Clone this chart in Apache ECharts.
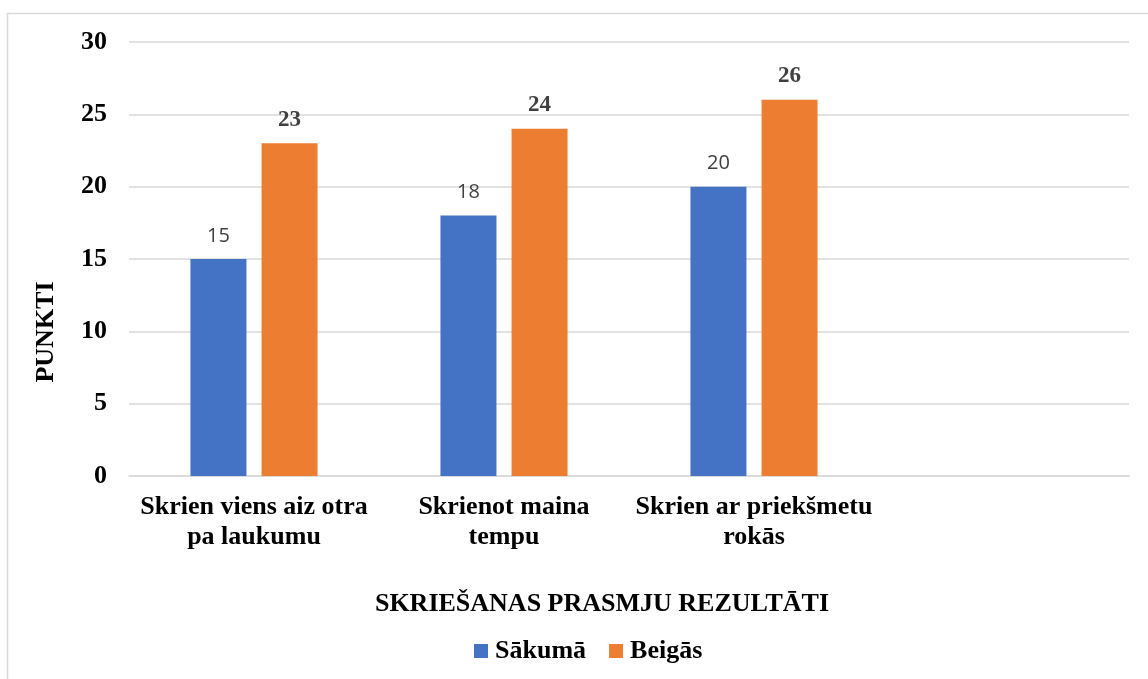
<!DOCTYPE html>
<html>
<head>
<meta charset="utf-8">
<script src="https://cdn.jsdelivr.net/npm/echarts@6/dist/echarts.min.js"></script>
<style>
  html, body { margin: 0; padding: 0; background: #fff; }
  #chart { width: 1148px; height: 679px; }
</style>
</head>
<body>
<div id="chart"></div>
<script>
// dati
var categories = ['Skrien viens aiz otra\npa laukumu', 'Skrienot maina\ntempu', 'Skrien ar priekšmetu\nrokās', '']
var sakuma = [15, 18, 20, '-']
var beigas = [23, 24, 26, '-']
var yTicks = { min: 0, max: 30, step: 5 }

var serif = 'Liberation Serif'

var chart = echarts.init(document.getElementById('chart'))
chart.setOption({
  animation: false,
  color: ['#4472c4', '#ed7d31'],
  textStyle: { fontFamily: serif },
  grid: { left: 129, right: 19, top: 42, bottom: 203 },
  graphic: [
    // ramis ap diagrammu
    { type: 'rect', shape: { x: 7.5, y: 13.5, width: 1300, height: 800 }, style: { fill: 'none', stroke: '#d9d9d9', lineWidth: 1.5 }, silent: true },
    { type: 'text', x: 46, y: 332, rotation: Math.PI / 2,
      style: { text: 'PUNKTI', font: 'bold 26px "Liberation Serif"', fill: '#000', textAlign: 'center', textVerticalAlign: 'middle' } },
    { type: 'text', x: 602, y: 604,
      style: { text: 'SKRIEŠANAS PRASMJU REZULTĀTI', font: 'bold 26px "Liberation Serif"', fill: '#000', textAlign: 'center', textVerticalAlign: 'middle' } }
  ],
  legend: {
    left: 469,
    top: 633,
    icon: 'rect',
    itemWidth: 14,
    itemHeight: 14,
    itemGap: 23,
    textStyle: { fontFamily: serif, fontWeight: 'bold', fontSize: 26, color: '#000', padding: [0, 0, 0, 2] },
    data: ['Sākumā', 'Beigās']
  },
  xAxis: {
    type: 'category',
    data: categories,
    axisLine: { lineStyle: { color: '#d9d9d9', width: 1.5 } },
    axisTick: { show: false },
    axisLabel: {
      interval: 0,
      margin: 16,
      fontFamily: serif,
      fontWeight: 'bold',
      fontSize: 26,
      lineHeight: 30,
      color: '#000'
    }
  },
  yAxis: {
    type: 'value',
    min: yTicks.min,
    max: yTicks.max,
    interval: yTicks.step,
    axisLine: { show: false },
    axisTick: { show: false },
    splitLine: { lineStyle: { color: '#d9d9d9', width: 1.5 } },
    axisLabel: {
      margin: 22,
      fontFamily: serif,
      fontWeight: 'bold',
      fontSize: 26,
      color: '#000'
    }
  },
  series: [
    {
      name: 'Sākumā',
      type: 'bar',
      barWidth: 56,
      barGap: '27%',
      data: sakuma,
      label: {
        show: true,
        position: 'top',
        distance: 13,
        fontFamily: 'Open Sans',
        fontSize: 20,
        color: '#404040'
      }
    },
    {
      name: 'Beigās',
      type: 'bar',
      barWidth: 56,
      data: beigas,
      label: {
        show: true,
        position: 'top',
        distance: 12,
        fontFamily: serif,
        fontWeight: 'bold',
        fontSize: 23,
        color: '#404040'
      }
    }
  ]
})
</script>
</body>
</html>
